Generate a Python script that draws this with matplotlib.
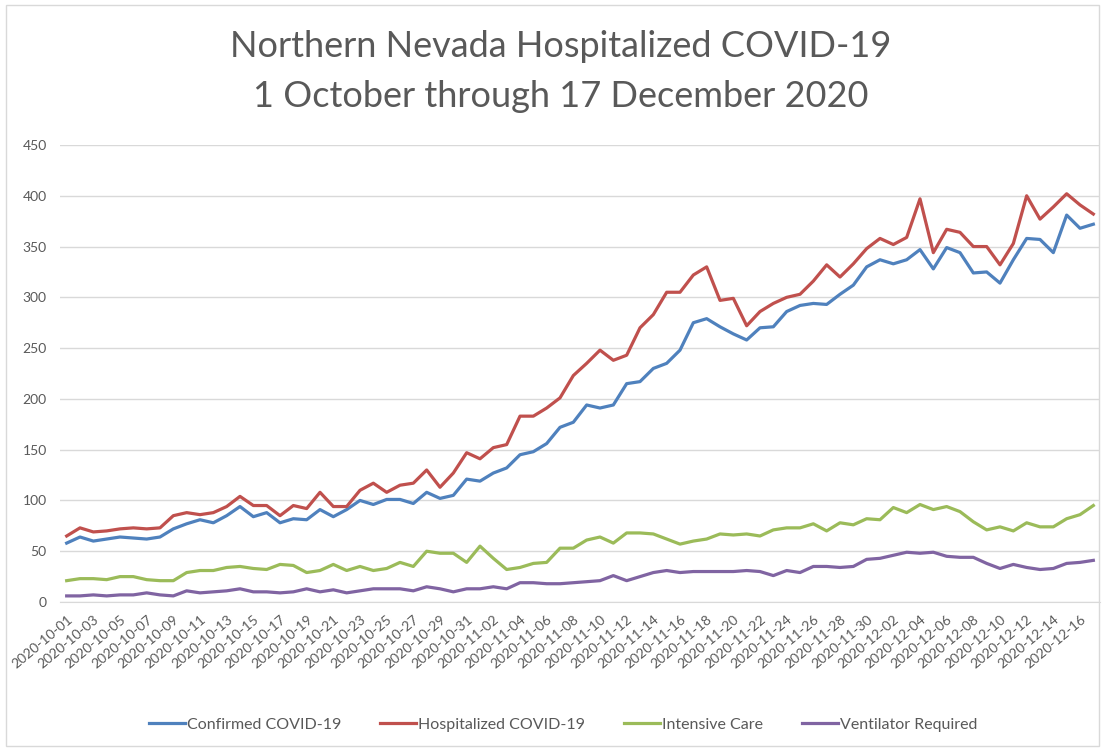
import numpy as np
import pandas as pd
import matplotlib
matplotlib.use('Agg')
import matplotlib.pyplot as plt
from matplotlib.patches import Rectangle

dates = pd.date_range('2020-10-01', '2020-12-17', freq='D').strftime('%Y-%m-%d').tolist()

confirmed = [
    58, 64, 60, 62, 64, 63, 62, 64, 72, 77,
    81, 78, 85, 94, 84, 88, 78, 82, 81, 91,
    84, 91, 100, 96, 101, 101, 97, 108, 102, 105,
    121, 119, 127, 132, 145, 148, 156, 172, 177, 194,
    191, 194, 215, 217, 230, 235, 248, 275, 279, 271,
    264, 258, 270, 271, 286, 292, 294, 293, 303, 312,
    330, 337, 333, 337, 347, 328, 349, 344, 324, 325,
    314, 337, 358, 357, 344, 381, 368, 372]
hospitalized = [
    65, 73, 69, 70, 72, 73, 72, 73, 85, 88,
    86, 88, 94, 104, 95, 95, 85, 95, 92, 108,
    94, 94, 110, 117, 108, 115, 117, 130, 113, 127,
    147, 141, 152, 155, 183, 183, 191, 201, 223, 235,
    248, 238, 243, 270, 283, 305, 305, 322, 330, 297,
    299, 272, 286, 294, 300, 303, 316, 332, 320, 333,
    348, 358, 352, 359, 397, 344, 367, 364, 350, 350,
    332, 353, 400, 377, 389, 402, 391, 382]
intensive_care = [
    21, 23, 23, 22, 25, 25, 22, 21, 21, 29,
    31, 31, 34, 35, 33, 32, 37, 36, 29, 31,
    37, 31, 35, 31, 33, 39, 35, 50, 48, 48,
    39, 55, 43, 32, 34, 38, 39, 53, 53, 61,
    64, 58, 68, 68, 67, 62, 57, 60, 62, 67,
    66, 67, 65, 71, 73, 73, 77, 70, 78, 76,
    82, 81, 93, 88, 96, 91, 94, 89, 79, 71,
    74, 70, 78, 74, 74, 82, 86, 95]
ventilator = [
    6, 6, 7, 6, 7, 7, 9, 7, 6, 11,
    9, 10, 11, 13, 10, 10, 9, 10, 13, 10,
    12, 9, 11, 13, 13, 13, 11, 15, 13, 10,
    13, 13, 15, 13, 19, 19, 18, 18, 19, 20,
    21, 26, 21, 25, 29, 31, 29, 30, 30, 30,
    30, 31, 30, 26, 31, 29, 35, 35, 34, 35,
    42, 43, 46, 49, 48, 49, 45, 44, 44, 38,
    33, 37, 34, 32, 33, 38, 39, 41]

series_names = ['Confirmed COVID-19', 'Hospitalized COVID-19', 'Intensive Care', 'Ventilator Required']
y_ticks = [0, 50, 100, 150, 200, 250, 300, 350, 400, 450]

COLORS = ['#4F81BD', '#C0504D', '#9BBB59', '#8064A2']
TEXT_COLOR = '#595959'
GRID_COLOR = '#D9D9D9'
FONT = ['Lato', 'DejaVu Sans']

plt.rcParams['font.family'] = FONT

fig = plt.figure(figsize=(11.06, 7.48), dpi=100)
ax = fig.add_axes([60 / 1106, 146 / 748, 1040 / 1106, 457 / 748])

x = np.arange(len(dates))
for values, name, color in zip([confirmed, hospitalized, intensive_care, ventilator], series_names, COLORS):
    ax.plot(x, values, color=color, linewidth=2.3, label=name, solid_joinstyle='round')

ax.set_xlim(-0.5, len(dates) - 0.5)
ax.set_ylim(0, 450)
ax.set_yticks(y_ticks)
ax.set_yticklabels([str(t) for t in y_ticks], color=TEXT_COLOR, fontsize=10)
ax.grid(axis='y', color=GRID_COLOR, linewidth=1)
ax.set_axisbelow(True)
for side in ['top', 'right', 'left']:
    ax.spines[side].set_visible(False)
ax.spines['bottom'].set_color(GRID_COLOR)
ax.tick_params(axis='y', length=0, pad=9.5)
ax.tick_params(axis='x', length=0, pad=8)

ax.set_xticks(x[::2])
ax.set_xticklabels(dates[::2], rotation=40, ha='right', va='top',
                   rotation_mode='anchor', color=TEXT_COLOR, fontsize=10)

fig.text(0.507, 0.938, 'Northern Nevada Hospitalized COVID-19', ha='center', va='center',
         fontsize=26, color=TEXT_COLOR)
fig.text(0.507, 0.871, '1 October through 17 December 2020', ha='center', va='center',
         fontsize=26, color=TEXT_COLOR)

legend = fig.legend(loc='center', bbox_to_anchor=(0.509, 0.031), ncol=4, frameon=False,
                    fontsize=11.5, handlelength=2.25, columnspacing=2.45, handletextpad=0.12)
for t in legend.get_texts():
    t.set_color(TEXT_COLOR)

fig.patches.append(Rectangle((6 / 1106, 2 / 748), 1093 / 1106, 741 / 748,
                             transform=fig.transFigure, fill=False,
                             edgecolor='#D9D9D9', linewidth=1))

fig.savefig('out.png', dpi=100)
